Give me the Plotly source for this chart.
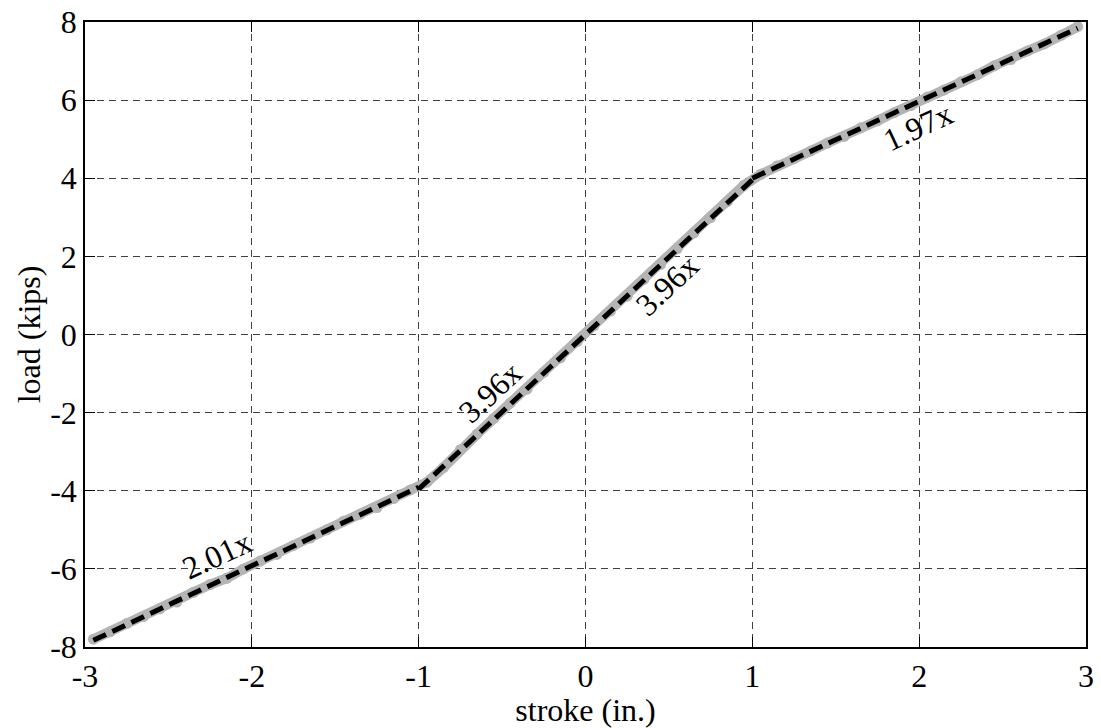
import plotly.graph_objects as go

# measured data (stroke in., load kips)
stroke = [-2.95, -2.85, -2.75, -2.65, -2.55, -2.45, -2.35, -2.25, -2.15, -2.05,
          -1.95, -1.85, -1.75, -1.65, -1.55, -1.45, -1.35, -1.25, -1.15, -1.05,
          -0.95, -0.85, -0.75, -0.65, -0.55, -0.45, -0.35, -0.25, -0.15, -0.05,
          0.05, 0.15, 0.25, 0.35, 0.45, 0.55, 0.65, 0.75, 0.85, 0.95,
          1.05, 1.15, 1.25, 1.35, 1.45, 1.55, 1.65, 1.75, 1.85, 1.95,
          2.05, 2.15, 2.25, 2.35, 2.45, 2.55, 2.65, 2.75, 2.85, 2.95]
load = [-7.80, -7.61, -7.40, -7.22, -7.02, -6.85, -6.60, -6.40, -6.24, -6.00,
        -5.80, -5.63, -5.40, -5.21, -5.00, -4.78, -4.60, -4.43, -4.20, -3.98,
        -3.78, -3.40, -2.95, -2.55, -2.15, -1.75, -1.40, -0.97, -0.60, -0.18,
        0.22, 0.60, 0.98, 1.41, 1.79, 2.20, 2.60, 2.99, 3.40, 3.82,
        4.10, 4.32, 4.50, 4.70, 4.90, 5.07, 5.29, 5.47, 5.68, 5.86,
        6.08, 6.26, 6.47, 6.65, 6.88, 7.04, 7.26, 7.44, 7.66, 7.88]

# linear fit segments
fit1_x = [-2.95, -1.0]
fit1_y = [-7.83, -3.91]
fit2_x = [-1.0, 1.0]
fit2_y = [-3.96, 3.96]
fit3_x = [1.0, 2.95]
fit3_y = [4.00, 7.84]

# slope labels
lbl_text = ["2.01x", "3.96x", "3.96x", "1.97x"]
lbl_x = [-2.21, -0.57, 0.49, 1.99]
lbl_y = [-5.65, -1.47, 1.27, 5.31]
lbl_ang = [-25, -43, -43, -25]

xticks = [-3, -2, -1, 0, 1, 2, 3]
yticks = [-8, -6, -4, -2, 0, 2, 4, 6, 8]

FF = "Liberation Serif"
FS = 32

fig = go.Figure()
fig.add_trace(go.Scatter(x=stroke, y=load, mode="lines+markers",
                         line=dict(color="#b4b4b4", width=10),
                         marker=dict(color="#b4b4b4", size=11),
                         showlegend=False))
for fx, fy in [(fit1_x, fit1_y), (fit2_x, fit2_y), (fit3_x, fit3_y)]:
    fig.add_trace(go.Scatter(x=fx, y=fy, mode="lines",
                             line=dict(color="black", width=5, dash="14px,7px"),
                             showlegend=False))

for t, x, y, a in zip(lbl_text, lbl_x, lbl_y, lbl_ang):
    fig.add_annotation(x=x, y=y, text=t, showarrow=False, textangle=a,
                       xanchor="center", yanchor="middle",
                       font=dict(family=FF, size=FS, color="black"))

axis_common = dict(showline=True, linecolor="black", linewidth=1.5, mirror="ticks",
                   ticks="inside", ticklen=10, tickcolor="black", tickwidth=1,
                   showgrid=True, gridcolor="#404040", gridwidth=1,
                   griddash="7px,5px", zeroline=False, automargin=False,
                   ticklabeloverflow="allow",
                   tickfont=dict(family=FF, size=FS, color="black"))

fig.update_xaxes(range=[-3, 3], tickvals=xticks, ticktext=[str(v) for v in xticks],
                 title=dict(text="stroke (in.)", standoff=0,
                            font=dict(family=FF, size=FS, color="black")),
                 **axis_common)
fig.update_yaxes(range=[-8, 8], tickvals=yticks, ticktext=[str(v) for v in yticks],
                 title=dict(text="load (kips)", standoff=0,
                            font=dict(family=FF, size=FS, color="black")),
                 **axis_common)

fig.update_layout(width=1101, height=728, margin=dict(l=85, r=15, t=22, b=81),
                  paper_bgcolor="white", plot_bgcolor="white")

fig.write_html("out.html", config={"displayModeBar": False},
               post_script="document.body.style.margin='0';document.body.style.overflow='hidden';")
